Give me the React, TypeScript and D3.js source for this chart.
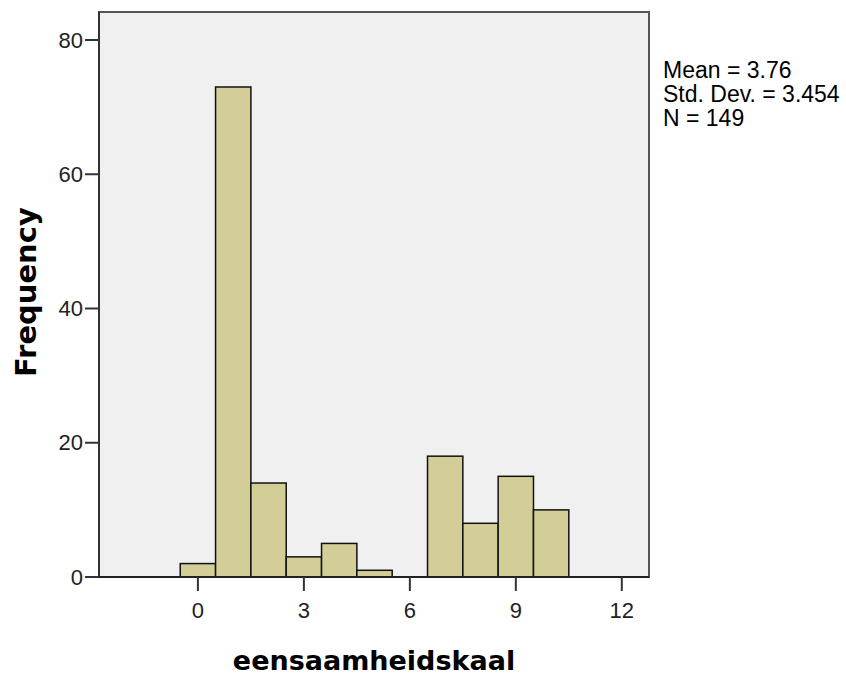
import React from "react";
import * as d3 from "d3";

const binCenters = [0, 1, 2, 3, 4, 5, 6, 7, 8, 9, 10];
const frequencies = [2, 73, 14, 3, 5, 1, 0, 18, 8, 15, 10];
const xTicks = [0, 3, 6, 9, 12];
const yTicks = [0, 20, 40, 60, 80];
const statsLines = ["Mean = 3.76", "Std. Dev. = 3.454", "N = 149"];
const xTitle = "eensaamheidskaal";
const yTitle = "Frequency";

const W = 846, H = 677;
const left = 99, right = 649, top = 12, bottom = 577;

export default function App() {
  const x = d3.scaleLinear().domain([-2.8, 12.77]).range([left, right]);
  const y = d3.scaleLinear().domain([0, 80]).range([bottom, 40]);
  const font = "'Liberation Sans', Arial, sans-serif";
  const bold = "'DejaVu Sans', Verdana, sans-serif";
  return (
    <svg width={W} height={H} style={{ position: "absolute", left: 0, top: 0, background: "#fff" }}>
      <rect x={left} y={top} width={right - left} height={bottom - top} fill="#f0f0f0" stroke="#555" strokeWidth={2} />
      {binCenters.map((c, i) =>
        frequencies[i] > 0 ? (
          <rect key={c} x={x(c - 0.5)} y={y(frequencies[i])} width={x(c + 0.5) - x(c - 0.5)} height={bottom - y(frequencies[i])}
            fill="#d3ce97" stroke="#111" strokeWidth={1.5} />
        ) : null
      )}
      <line x1={left} x2={left} y1={top} y2={bottom} stroke="#333" strokeWidth={2} />
      <line x1={left} x2={right} y1={bottom} y2={bottom} stroke="#222" strokeWidth={2} />
      {yTicks.map((t) => (
        <g key={t}>
          <line x1={left - 14} x2={left} y1={y(t)} y2={y(t)} stroke="#333" strokeWidth={2} />
          <text x={left - 16} y={y(t)} dy="0.35em" textAnchor="end" fontFamily={font} fontSize={22} fill="#222">{t}</text>
        </g>
      ))}
      {xTicks.map((t) => (
        <g key={t}>
          <line x1={x(t)} x2={x(t)} y1={bottom} y2={bottom + 14} stroke="#333" strokeWidth={2} />
          <text x={x(t)} y={618} textAnchor="middle" fontFamily={font} fontSize={22} fill="#222">{t}</text>
        </g>
      ))}
      <text x={374} y={670} textAnchor="middle" fontFamily={bold} fontWeight="bold" fontSize={27} fill="#000">{xTitle}</text>
      <text transform={`translate(36,292) rotate(-90)`} textAnchor="middle" fontFamily={bold} fontWeight="bold" fontSize={29} fill="#000">{yTitle}</text>
      {statsLines.map((s, i) => (
        <text key={s} x={663} y={78 + i * 24} fontFamily={font} fontSize={23} fill="#000">{s}</text>
      ))}
    </svg>
  );
}
